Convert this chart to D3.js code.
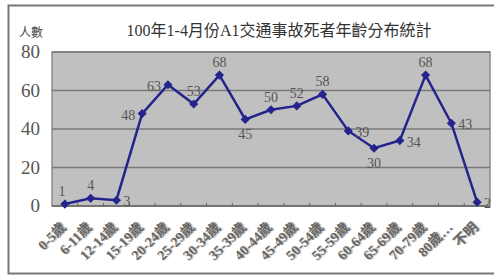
<!DOCTYPE html>
<html>
<head>
<meta charset="utf-8">
<script src="https://cdn.jsdelivr.net/npm/d3@7"></script>
<style>
  body { margin: 0; background: #fff; }
  svg { display: block; }
  .xlab { text-shadow: 1px 1px 1px #bbb; }
</style>
</head>
<body>
<svg id="chart"></svg>
<script>
// categories and values
const ageGroups = ["0-5歲", "6-11歲", "12-14歲", "15-19歲", "20-24歲", "25-29歲", "30-34歲", "35-39歲",
    "40-44歲", "45-49歲", "50-54歲", "55-59歲", "60-64歲", "65-69歲", "70-79歲", "80歲…", "不明"]
const deaths = [1, 4, 3, 48, 63, 53, 68, 45, 50, 52, 58, 39, 30, 34, 68, 43, 2]
const labelSide = ["above", "above", "right", "left", "left", "above", "above", "below",
    "above", "above", "above", "right", "below", "right", "above", "right", "right"]
const yTicks = [0, 20, 40, 60, 80]
const title = "100年1-4月份A1交通事故死者年齡分布統計"
const yTitle = "人數"

const width = 494
const height = 277
const margin = { top: 52, right: 4, bottom: 71, left: 52 }

const svg = d3.select("#chart")
    .attr("width", width)
    .attr("height", height)

const serif = "'Liberation Serif', 'Times New Roman', 'Noto Sans CJK TC', serif"
const cjk = "'Noto Sans CJK TC', 'Noto Sans CJK SC', sans-serif"

// outer frame
svg.append("rect")
    .attr("x", 8.5).attr("y", 5.5)
    .attr("width", 500).attr("height", 268)
    .attr("fill", "#fff")
    .attr("stroke", "#777")
    .attr("stroke-width", 2)

const x = d3.scaleBand()
    .domain(ageGroups)
    .range([margin.left, width - margin.right])

const y = d3.scaleLinear()
    .domain([0, 80])
    .range([height - margin.bottom, margin.top])

// plot area
svg.append("rect")
    .attr("x", margin.left).attr("y", margin.top)
    .attr("width", width - margin.left - margin.right)
    .attr("height", y(0) - y(80))
    .attr("fill", "#c0c0c0")
    .attr("stroke", "#8c8c8c")
    .attr("stroke-width", 1.5)

// gridlines
svg.append("g")
    .selectAll("line")
    .data(yTicks.slice(1))
    .join("line")
    .attr("x1", margin.left).attr("x2", width - margin.right)
    .attr("y1", d => y(d)).attr("y2", d => y(d))
    .attr("stroke", "#7a7a7a")
    .attr("stroke-width", 1.5)

// y axis labels
svg.append("g")
    .selectAll("text")
    .data(yTicks)
    .join("text")
    .attr("x", 40)
    .attr("y", d => y(d) + 6)
    .attr("text-anchor", "end")
    .attr("font-family", serif)
    .attr("font-size", 19)
    .attr("fill", "#555")
    .text(d => d)

svg.append("text")
    .attr("x", 19).attr("y", 37)
    .attr("font-family", cjk)
    .attr("font-size", 12)
    .attr("fill", "#444")
    .text(yTitle)

svg.append("text")
    .attr("x", 279).attr("y", 36)
    .attr("text-anchor", "middle")
    .attr("font-family", serif)
    .attr("font-size", 16)
    .attr("fill", "#333")
    .text(title)

// x axis line and ticks
svg.append("line")
    .attr("x1", margin.left).attr("x2", width - margin.right)
    .attr("y1", y(0)).attr("y2", y(0))
    .attr("stroke", "#666")
    .attr("stroke-width", 1.5)

svg.append("g")
    .selectAll("line")
    .data(ageGroups.slice(1))
    .join("line")
    .attr("x1", d => x(d)).attr("x2", d => x(d))
    .attr("y1", y(0) - 3).attr("y2", y(0) + 1)
    .attr("stroke", "#666")

// rotated category labels
svg.append("g")
    .selectAll("text")
    .data(ageGroups)
    .join("text")
    .attr("class", "xlab")
    .attr("transform", d => `translate(${x(d) + x.bandwidth() / 2 + 2},${y(0) + 22}) rotate(-45)`)
    .attr("text-anchor", "end")
    .attr("font-family", serif)
    .attr("font-size", 14)
    .attr("font-weight", "bold")
    .attr("fill", "#666")
    .text(d => d)

// line + markers
const pts = ageGroups.map((g, i) => ({ g, v: deaths[i], side: labelSide[i] }))
const cx = d => x(d.g) + x.bandwidth() / 2

svg.append("path")
    .datum(pts)
    .attr("fill", "none")
    .attr("stroke", "#24248c")
    .attr("stroke-width", 2.5)
    .attr("d", d3.line().x(cx).y(d => y(d.v)))

svg.append("g")
    .selectAll("path")
    .data(pts)
    .join("path")
    .attr("d", d3.symbol(d3.symbolSquare, 42))
    .attr("transform", d => `translate(${cx(d)},${y(d.v)}) rotate(45)`)
    .attr("fill", "#24248c")

// data labels
const off = {
    above: [0, -8, "middle"],
    below: [0, 20, "middle"],
    right: [7, 6, "start"],
    left: [-7, 6, "end"]
}
svg.append("g")
    .selectAll("text")
    .data(pts)
    .join("text")
    .attr("x", d => cx(d) + off[d.side][0] - (d.side === "above" && d.v < 2 ? 3 : 0))
    .attr("y", d => y(d.v) + off[d.side][1])
    .attr("text-anchor", d => off[d.side][2])
    .attr("font-family", serif)
    .attr("font-size", 14)
    .attr("fill", "#555")
    .text(d => d.v)
</script>
</body>
</html>
